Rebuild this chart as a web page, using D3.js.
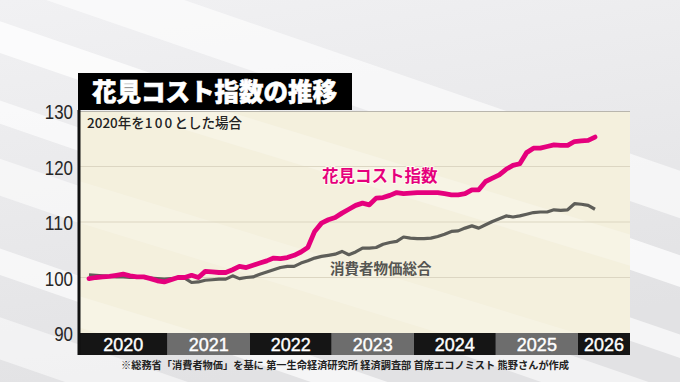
<!DOCTYPE html>
<html>
<head>
<meta charset="utf-8">
<script src="https://cdn.jsdelivr.net/npm/d3@7"></script>
<style>
  body { margin: 0; background: #ebebed; }
  svg { display: block; }
</style>
</head>
<body>
<div id="chart"></div>
<script>
// monthly values, Jan 2020 .. Mar 2026 (2020 = 100)
var years = ['2020', '2021', '2022', '2023', '2024', '2025', '2026'];
var y_ticks = [90, 100, 110, 120, 130];

var hanami = [
  99.8, 100.0, 100.1, 100.2, 100.4, 100.6, 100.3, 100.1, 100.1, 99.8, 99.4, 99.2,
  99.6, 100.0, 100.0, 100.4, 100.0, 101.1, 101.0, 100.9, 100.9, 101.4, 102.0, 101.8,
  102.2, 102.6, 103.0, 103.5, 103.4, 103.6, 104.0, 104.6, 105.4, 108.3, 109.8, 110.4,
  110.8, 111.6, 112.3, 113.0, 113.4, 113.1, 114.3, 114.4, 114.8, 115.3, 115.1, 115.2,
  115.3, 115.3, 115.3, 115.3, 115.1, 114.9, 114.9, 115.1, 115.8, 115.8, 117.3, 117.9,
  118.5, 119.5, 120.2, 120.5, 122.5, 123.3, 123.3, 123.6, 123.9, 123.8, 123.8, 124.5,
  124.6, 124.7, 125.3
];

var cpi = [
  100.5, 100.4, 100.3, 100.2, 100.1, 100.1, 100.0, 100.0, 100.0, 99.9, 99.8, 99.7,
  99.8, 99.9, 99.9, 99.1, 99.2, 99.5, 99.6, 99.7, 99.7, 100.3, 99.8, 100.0,
  100.1, 100.6, 101.0, 101.4, 101.8, 102.0, 102.0, 102.6, 103.0, 103.5, 103.8, 104.0,
  104.2, 104.7, 104.1, 104.6, 105.3, 105.3, 105.4, 106.0, 106.3, 106.5, 107.3, 107.1,
  107.0, 107.0, 107.1, 107.4, 107.8, 108.3, 108.4, 108.9, 109.3, 108.9, 109.5, 110.1,
  110.6, 111.1, 110.9, 111.1, 111.4, 111.7, 111.8, 111.8, 112.2, 112.1, 112.2, 113.3,
  113.2, 113.0, 112.3
];

var width = 680, height = 382;
var plot = {left: 79, right: 630, top: 111, bottom: 333};
var band_h = 22;

var svg = d3.select('#chart')
  .append('svg')
  .attr('width', width)
  .attr('height', height);

var defs = svg.append('defs');

var bg_grad = defs.append('linearGradient')
  .attr('id', 'bg_grad')
  .attr('x1', 0).attr('y1', 0).attr('x2', 0.3).attr('y2', 1);
bg_grad.append('stop').attr('offset', '0%').attr('stop-color', '#f1f1f3');
bg_grad.append('stop').attr('offset', '100%').attr('stop-color', '#e2e2e4');

defs.append('clipPath')
  .attr('id', 'plot_clip')
  .append('rect')
  .attr('x', plot.left)
  .attr('y', plot.top)
  .attr('width', plot.right - plot.left)
  .attr('height', plot.bottom - plot.top);

// background with soft diagonal stripes
svg.append('rect')
  .attr('width', width)
  .attr('height', height)
  .attr('fill', 'url(#bg_grad)');

var bg_stripes = [
  {y: -60, h: 45, o: 0.6},
  {y: 20, h: 30, o: 0.75},
  {y: 95, h: 22, o: 0.65},
  {y: 150, h: 35, o: 0.55},
  {y: 235, h: 25, o: 0.65},
  {y: 300, h: 40, o: 0.5},
  {y: 380, h: 30, o: 0.55}
];

svg.append('g')
  .attr('transform', 'rotate(19)')
  .selectAll('rect')
  .data(bg_stripes)
  .enter()
  .append('rect')
  .attr('x', -300)
  .attr('y', function(d) { return d.y; })
  .attr('width', 1400)
  .attr('height', function(d) { return d.h; })
  .attr('fill', '#ffffff')
  .attr('opacity', function(d) { return d.o; });

// scales
var x = d3.scaleLinear()
  .domain([0, hanami.length - 1])
  .range([89, 595]);

var y = d3.scaleLinear()
  .domain([90, 130])
  .range([plot.bottom, plot.top]);

// plot area
svg.append('rect')
  .attr('x', plot.left)
  .attr('y', plot.top)
  .attr('width', plot.right - plot.left)
  .attr('height', plot.bottom - plot.top)
  .attr('fill', '#f4f0dd');

var plot_stripes = [
  {y: 40, h: 30, o: 0.25},
  {y: 150, h: 40, o: 0.2},
  {y: 260, h: 30, o: 0.25}
];

svg.append('g')
  .attr('clip-path', 'url(#plot_clip)')
  .append('g')
  .attr('transform', 'rotate(17)')
  .selectAll('rect')
  .data(plot_stripes)
  .enter()
  .append('rect')
  .attr('x', -300)
  .attr('y', function(d) { return d.y; })
  .attr('width', 1400)
  .attr('height', function(d) { return d.h; })
  .attr('fill', '#ffffff')
  .attr('opacity', function(d) { return d.o; });

// gridlines
svg.append('g')
  .selectAll('line')
  .data(y_ticks.filter(function(d) { return d > 90 && d < 130; }))
  .enter()
  .append('line')
  .attr('x1', plot.left)
  .attr('x2', plot.right)
  .attr('y1', function(d) { return y(d); })
  .attr('y2', function(d) { return y(d); })
  .attr('stroke', '#dcd6c2')
  .attr('stroke-width', 1.2);

svg.append('line')
  .attr('x1', plot.left)
  .attr('x2', plot.right)
  .attr('y1', plot.top + 0.5)
  .attr('y2', plot.top + 0.5)
  .attr('stroke', '#b9b6ad')
  .attr('stroke-width', 1);

// y axis labels (condensed digits)
var y_axis = d3.axisLeft(y)
  .tickValues(y_ticks)
  .tickSize(0)
  .tickPadding(6);

svg.append('g')
  .attr('transform', 'translate(' + plot.left + ',1)')
  .call(y_axis)
  .call(function(g) { g.select('.domain').remove(); })
  .selectAll('text')
  .attr('fill', '#262626')
  .attr('textLength', function(d) { return String(d).length * 9.4; })
  .attr('lengthAdjust', 'spacingAndGlyphs')
  .style('font-family', '"Liberation Sans", Arial, sans-serif')
  .style('font-size', '21px');

// year band under the plot
var band_edges = years.map(function(d, i) {
  var x0 = i === 0 ? plot.left : x(i * 12 - 0.5);
  var x1 = i === years.length - 1 ? plot.right : x(i * 12 + 11.5);
  return {year: d, x0: x0, x1: x1, i: i};
});

var band = svg.append('g')
  .attr('class', 'year_band');

band.selectAll('rect')
  .data(band_edges)
  .enter()
  .append('rect')
  .attr('x', function(d) { return d.x0; })
  .attr('y', plot.bottom)
  .attr('width', function(d) { return d.x1 - d.x0; })
  .attr('height', band_h)
  .attr('fill', function(d) { return d.i % 2 === 1 ? '#6d6d6d' : '#151515'; });

band.selectAll('text')
  .data(band_edges)
  .enter()
  .append('text')
  .attr('x', function(d) { return (d.x0 + d.x1) / 2; })
  .attr('y', plot.bottom + 17.5)
  .attr('text-anchor', 'middle')
  .attr('fill', '#ffffff')
  .attr('stroke', '#ffffff')
  .attr('stroke-width', 0.4)
  .style('font-family', '"Liberation Sans", Arial, sans-serif')
  .style('font-size', '18px')
  .text(function(d) { return d.year; });

// left border of the chart
svg.append('rect')
  .attr('x', plot.left - 1.5)
  .attr('y', plot.top - 1)
  .attr('width', 3)
  .attr('height', plot.bottom - plot.top + band_h + 1)
  .attr('fill', '#111');

// lines
var line = d3.line()
  .x(function(d, i) { return x(i); })
  .y(function(d) { return y(d); });

svg.append('path')
  .datum(cpi)
  .attr('d', line)
  .attr('fill', 'none')
  .attr('stroke', '#5e5e59')
  .attr('stroke-width', 3.2)
  .attr('stroke-linejoin', 'round');

svg.append('path')
  .datum(hanami)
  .attr('d', line)
  .attr('fill', 'none')
  .attr('stroke', '#e5007d')
  .attr('stroke-width', 4.8)
  .attr('stroke-linejoin', 'round')
  .attr('stroke-linecap', 'round');

// series labels
var cjk = '"Noto Sans CJK JP", "Noto Sans", sans-serif';

svg.append('text')
  .attr('x', 322)
  .attr('y', 181.5)
  .attr('fill', '#e5007d')
  .attr('stroke', '#fffaf0')
  .attr('stroke-width', 2)
  .attr('paint-order', 'stroke')
  .style('font-family', cjk)
  .style('font-weight', 700)
  .style('font-size', '16.5px')
  .text('花見コスト指数');

svg.append('text')
  .attr('x', 330)
  .attr('y', 274)
  .attr('fill', '#555552')
  .style('font-family', cjk)
  .style('font-weight', 700)
  .style('font-size', '14.5px')
  .text('消費者物価総合');

// title box
svg.append('rect')
  .attr('x', 78)
  .attr('y', 73)
  .attr('width', 274)
  .attr('height', 37)
  .attr('fill', '#000');

svg.append('text')
  .attr('x', 92)
  .attr('y', 101)
  .attr('fill', '#ffffff')
  .attr('stroke', '#ffffff')
  .attr('stroke-width', 0.6)
  .style('font-family', cjk)
  .style('font-weight', 900)
  .style('font-size', '24.5px')
  .text('花見コスト指数の推移');

// subtitle, the "100" is set a bit wider like in the original
var sub = svg.append('text')
  .attr('x', 87)
  .attr('y', 128)
  .attr('fill', '#222')
  .style('font-family', cjk)
  .style('font-weight', 500)
  .style('font-size', '13.5px');
sub.append('tspan').text('2020年を');
sub.append('tspan').style('letter-spacing', '2.2px').text('100');
sub.append('tspan').text('とした場合');

// source note
svg.append('text')
  .attr('x', 121)
  .attr('y', 369)
  .attr('fill', '#222')
  .attr('textLength', 448)
  .attr('lengthAdjust', 'spacing')
  .style('font-family', cjk)
  .style('font-weight', 700)
  .style('font-size', '10.2px')
  .text('※総務省「消費者物価」を基に 第一生命経済研究所 経済調査部 首席エコノミスト 熊野さんが作成');
</script>
</body>
</html>
